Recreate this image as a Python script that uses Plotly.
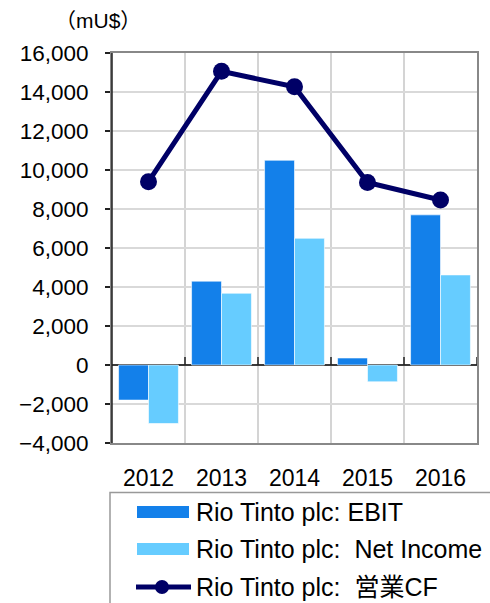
import plotly.graph_objects as go

# ---- data ----
years = ["2012", "2013", "2014", "2015", "2016"]
ebit = [-1800, 4300, 10500, 360, 7700]
net_income = [-3000, 3680, 6500, -860, 4620]
operating_cf = [9400, 15060, 14270, 9360, 8460]
y_tick_values = [-4000, -2000, 0, 2000, 4000, 6000, 8000, 10000, 12000, 14000, 16000]

series_names = ["Rio Tinto plc: EBIT", "Rio Tinto plc:\u00a0 Net Income", "Rio Tinto plc:\u00a0 営業CF"]
unit_label = "（mU$）"

# ---- style ----
C_EBIT = "#1380EA"
C_NI = "#66CCFF"
C_CF = "#000066"
FONT = "Liberation Sans, Arial, Noto Sans CJK JP, sans-serif"

W, H = 490, 603
L, R, T, B = 112, 13, 53, 160
PW, PH = W - L - R, H - T - B


def px_x(px):
    return (px - L) / PW


def px_y(py):
    return (T + PH - py) / PH


xpos = list(range(len(years)))
boundaries = [i + 0.5 for i in xpos[:-1]]

fig = go.Figure()
fig.add_bar(x=xpos, y=ebit, name=series_names[0],
            marker=dict(color=C_EBIT, line=dict(color="rgba(255,255,255,0.6)", width=1)))
fig.add_bar(x=xpos, y=net_income, name=series_names[1],
            marker=dict(color=C_NI, line=dict(color="rgba(255,255,255,0.6)", width=1)))
fig.add_scatter(x=xpos, y=operating_cf, name=series_names[2], mode="lines+markers",
                line=dict(color=C_CF, width=5), marker=dict(size=17, color=C_CF))

shapes = []
# dark left axis line
shapes.append(dict(type="line", xref="paper", yref="paper", x0=0, x1=0, y0=0, y1=1,
                   line=dict(color="#222222", width=1.5)))
# small upward ticks on the zero line at category boundaries
for b in boundaries + [xpos[-1] + 0.5]:
    shapes.append(dict(type="line", xref="x", yref="y", ysizemode="pixel", yanchor=0,
                       x0=b, x1=b, y0=0, y1=8, line=dict(color="#222222", width=1.5)))

# manual legend
shapes.append(dict(type="rect", xref="paper", yref="paper",
                   x0=px_x(110), x1=px_x(500), y0=px_y(492.5), y1=px_y(620),
                   line=dict(color="#999999", width=1.5), fillcolor="white", layer="below"))
shapes.append(dict(type="rect", xref="paper", yref="paper",
                   x0=px_x(137), x1=px_x(189), y0=px_y(506), y1=px_y(518),
                   line=dict(width=0), fillcolor=C_EBIT))
shapes.append(dict(type="rect", xref="paper", yref="paper",
                   x0=px_x(137), x1=px_x(189), y0=px_y(543), y1=px_y(555),
                   line=dict(width=0), fillcolor=C_NI))
shapes.append(dict(type="line", xref="paper", yref="paper",
                   x0=px_x(136), x1=px_x(191), y0=px_y(587), y1=px_y(587),
                   line=dict(color=C_CF, width=5)))
shapes.append(dict(type="circle", xref="paper", yref="paper",
                   x0=px_x(155), x1=px_x(169), y0=px_y(580), y1=px_y(594),
                   line=dict(width=0), fillcolor=C_CF))

annotations = [
    dict(text=unit_label, xref="paper", yref="paper", x=px_x(98), y=px_y(20),
         xanchor="center", yanchor="middle", showarrow=False,
         font=dict(family=FONT, size=21, color="black")),
]
for name, cy in zip(series_names, [512, 549, 587]):
    annotations.append(dict(text=name, xref="paper", yref="paper", x=px_x(194), y=px_y(cy),
                            xanchor="left", yanchor="middle", showarrow=False,
                            font=dict(family=FONT, size=25, color="black")))

fig.update_layout(
    width=W, height=H,
    margin=dict(l=L, r=R, t=T, b=B, pad=0),
    paper_bgcolor="white", plot_bgcolor="white",
    barmode="group", bargap=0.18, bargroupgap=0,
    showlegend=False,
    shapes=shapes, annotations=annotations,
    font=dict(family=FONT, color="black"),
)
fig.update_xaxes(
    range=[-0.5, len(years) - 0.5],
    tickmode="array", tickvals=xpos, ticktext=years,
    ticks="", showgrid=False, zeroline=False,
    tickfont=dict(family=FONT, size=23, color="black"),
    ticklabelstandoff=13,
    showline=True, linecolor="#888888", linewidth=2, mirror=True,
    minor=dict(tickmode="array", tickvals=boundaries, showgrid=True,
               gridcolor="#d4d4d4", gridwidth=1.5, ticks=""),
)
fig.update_yaxes(
    range=[-4000, 16000],
    tickmode="array", tickvals=y_tick_values, tickformat=",",
    ticks="outside", ticklen=5, tickcolor="#222222", tickwidth=1.5,
    showgrid=True, gridcolor="#d9d9d9", gridwidth=1.5,
    zeroline=True, zerolinecolor="#3a3a3a", zerolinewidth=1.5,
    showline=True, linecolor="#888888", linewidth=2, mirror=True,
    tickfont=dict(family=FONT, size=22.5, color="black"),
    ticklabelstandoff=12,
)

fig.write_html("out.html", config={"displayModeBar": False},
               post_script="document.body.style.margin='0px';")
